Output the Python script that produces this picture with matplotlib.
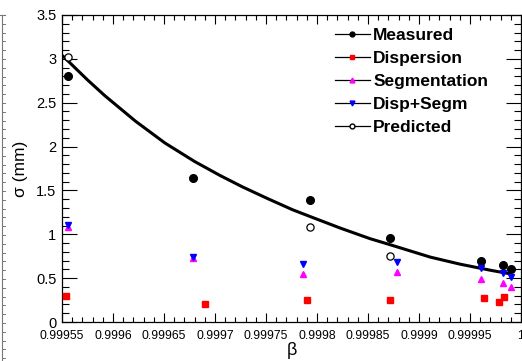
import matplotlib
matplotlib.use("Agg")
import matplotlib.pyplot as plt
from matplotlib.lines import Line2D
from matplotlib.ticker import FixedLocator, MultipleLocator, FixedFormatter

plt.rcParams['font.family'] = ['Liberation Sans', 'DejaVu Sans']

# ---- data ----
beta_meas = [0.999556, 0.999678, 0.999793, 0.999872, 0.999961, 0.999982, 0.999990]
sig_meas = [2.81, 1.64, 1.39, 0.96, 0.70, 0.65, 0.60]

beta_disp = [0.999554, 0.999690, 0.999790, 0.999872, 0.999964, 0.999978, 0.999983]
sig_disp = [0.30, 0.21, 0.25, 0.25, 0.27, 0.23, 0.28]

beta_segm = [0.999556, 0.999678, 0.999786, 0.999878, 0.999961, 0.999982, 0.999990]
sig_segm = [1.08, 0.73, 0.55, 0.57, 0.49, 0.45, 0.40]

beta_ds = [0.999556, 0.999678, 0.999786, 0.999878, 0.999961, 0.999982, 0.999990]
sig_ds = [1.11, 0.74, 0.66, 0.68, 0.61, 0.56, 0.51]

beta_pred = [0.999556, 0.999793, 0.999872]
sig_pred = [3.02, 1.08, 0.75]

beta_fit = [0.99955, 0.999552, 0.999575, 0.999592, 0.999622, 0.999651, 0.999680,
            0.999705, 0.999727, 0.999751, 0.999776, 0.999796, 0.999823, 0.999852,
            0.999872, 0.999911, 0.999940, 0.999970, 0.999989]
sig_fit = [3.04, 3.02, 2.76, 2.58, 2.29, 2.04, 1.83, 1.67, 1.54, 1.41, 1.28, 1.19,
           1.07, 0.95, 0.88, 0.74, 0.66, 0.59, 0.55]

xtick_vals = [0.99955, 0.9996, 0.99965, 0.9997, 0.99975, 0.9998, 0.99985, 0.9999, 0.99995, 1.0]
xtick_labels = ['0.99955', '0.9996', '0.99965', '0.9997', '0.99975', '0.9998',
                '0.99985', '0.9999', '0.99995', '1']
ytick_vals = [0, 0.5, 1, 1.5, 2, 2.5, 3, 3.5]
ytick_labels = ['0', '0.5', '1', '1.5', '2', '2.5', '3', '3.5']

legend_labels = ['Measured', 'Dispersion', 'Segmentation', 'Disp+Segm', 'Predicted']

fig = plt.figure(figsize=(5.22, 3.61), dpi=100)
ax = fig.add_axes([62/522, 1-322/361, 459/522, 307/361])

ax.plot(beta_fit, sig_fit, color='black', lw=2.2, zorder=2, solid_joinstyle='round')
ax.plot(beta_meas, sig_meas, 'o', color='black', ms=5.5, zorder=4)
ax.plot(beta_disp, sig_disp, 's', color='red', ms=5.0, mec='red', zorder=4)
ax.plot(beta_segm, sig_segm, '^', color='magenta', ms=5.0, zorder=4)
ax.plot(beta_ds, sig_ds, 'v', color='blue', ms=5.0, zorder=4)
ax.plot(beta_pred, sig_pred, 'o', mfc='white', mec='black', mew=0.9, ms=5.2, zorder=3)

ax.set_xlim(0.99955, 1.0)
ax.set_ylim(0, 3.5)

ax.xaxis.set_major_locator(FixedLocator(xtick_vals))
ax.xaxis.set_major_formatter(FixedFormatter(xtick_labels))
ax.xaxis.set_minor_locator(MultipleLocator(0.00001))
ax.yaxis.set_major_locator(FixedLocator(ytick_vals))
ax.yaxis.set_major_formatter(FixedFormatter(ytick_labels))
ax.yaxis.set_minor_locator(MultipleLocator(0.1))

ax.tick_params(axis='x', which='major', direction='in', length=6.5, width=0.8,
               top=True, bottom=True, labelsize=8.8, pad=6)
ax.tick_params(axis='x', which='minor', direction='in', length=3.3, width=0.8,
               top=True, bottom=True)
ax.tick_params(axis='y', which='major', direction='in', length=10.8, width=0.8,
               left=True, right=True, labelsize=10.5, pad=4)
ax.tick_params(axis='y', which='minor', direction='in', length=5.2, width=0.8,
               left=True, right=True)
for s in ax.spines.values():
    s.set_linewidth(0.9)

ax.set_xlabel('β', fontsize=13, labelpad=0)
ax.set_ylabel('σ (mm)', fontsize=12.5, labelpad=6)

handles = [
    Line2D([], [], color='black', lw=0.9, marker='o', mfc='black', mec='black', ms=3.5),
    Line2D([], [], color='black', lw=0.9, marker='s', mfc='red', mec='red', ms=3.5),
    Line2D([], [], color='black', lw=0.9, marker='^', mfc='magenta', mec='magenta', ms=3.5),
    Line2D([], [], color='black', lw=0.9, marker='v', mfc='blue', mec='blue', ms=3.5),
    Line2D([], [], color='black', lw=0.9, marker='o', mfc='white', mec='black', ms=3.5),
]
leg = ax.legend(handles, legend_labels, loc='upper left',
                bbox_to_anchor=(335/522, 1-28/361), bbox_transform=fig.transFigure,
                frameon=False, prop={'weight': 'bold', 'size': 12.5},
                handlelength=2.0, handletextpad=0.2, labelspacing=0.45,
                borderaxespad=0, borderpad=0)

# neighbouring panel's axis at the left edge
fig.add_artist(Line2D([1.5/522, 1.5/522], [0, 1-15/361], transform=fig.transFigure,
                      color='#777777', lw=0.8))
fig.add_artist(Line2D([0, 5/522], [1-15/361, 1-15/361], transform=fig.transFigure,
                      color='#777777', lw=0.8))
yy = 15
while yy < 361:
    fig.add_artist(Line2D([1.5/522, 5/522], [1-yy/361, 1-yy/361], transform=fig.transFigure,
                          color='#777777', lw=0.7))
    yy += 8.8

fig.savefig('out.png', dpi=100)
